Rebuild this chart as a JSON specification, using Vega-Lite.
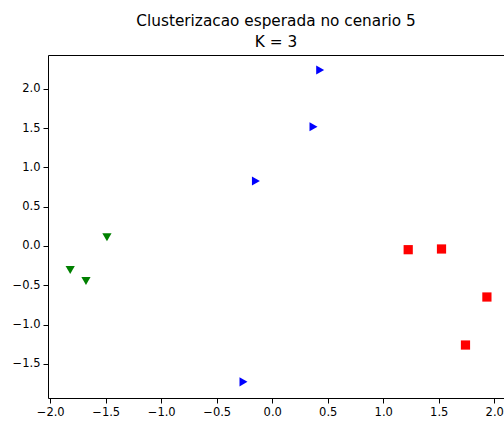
{
  "$schema": "https://vega.github.io/schema/vega-lite/v6.json",
  "width": 456,
  "height": 343,
  "autosize": {"type": "none"},
  "padding": {"left": 48, "top": 55, "right": 0, "bottom": 23},
  "background": "white",
  "title": {
    "text": ["Clusterizacao esperada no cenario 5", "K = 3"],
    "font": "DejaVu Sans",
    "fontSize": 15.3,
    "fontWeight": "normal",
    "color": "#000000",
    "lineHeight": 21,
    "offset": 5,
    "anchor": "middle"
  },
  "config": {
    "view": {"stroke": null},
    "axis": {
      "labelFont": "DejaVu Sans",
      "labelFontSize": 11.5,
      "labelColor": "#000000",
      "tickColor": "#000000",
      "domainColor": "#000000",
      "domainWidth": 1,
      "tickSize": 5,
      "tickWidth": 1,
      "labelPadding": 3,
      "grid": false,
      "title": null
    }
  },
  "data": {
    "values": [
      {"x": 0.432, "y": 2.239, "cluster": "1"},
      {"x": 0.372, "y": 1.517, "cluster": "1"},
      {"x": -0.147, "y": 0.827, "cluster": "1"},
      {"x": -0.259, "y": -1.728, "cluster": "1"},
      {"x": -1.489, "y": 0.11, "cluster": "2"},
      {"x": -1.82, "y": -0.305, "cluster": "2"},
      {"x": -1.678, "y": -0.445, "cluster": "2"},
      {"x": 1.225, "y": -0.047, "cluster": "3"},
      {"x": 1.525, "y": -0.038, "cluster": "3"},
      {"x": 1.934, "y": -0.649, "cluster": "3"},
      {"x": 1.741, "y": -1.26, "cluster": "3"}
    ]
  },
  "layer": [
    {
      "mark": {"type": "point", "filled": true, "opacity": 1},
      "encoding": {
        "x": {
          "field": "x",
          "type": "quantitative",
          "scale": {"domain": [-2.02, 2.088], "nice": false, "zero": false},
          "axis": {"orient": "bottom", "values": [-2, -1.5, -1, -0.5, 0, 0.5, 1, 1.5, 2], "format": ".1f"}
        },
        "y": {
          "field": "y",
          "type": "quantitative",
          "scale": {"domain": [-1.934, 2.43], "nice": false, "zero": false},
          "axis": {"values": [-1.5, -1, -0.5, 0, 0.5, 1, 1.5, 2], "format": ".1f"}
        },
        "color": {
          "field": "cluster",
          "type": "nominal",
          "scale": {"domain": ["1", "2", "3"], "range": ["#0000ff", "#008000", "#ff0000"]},
          "legend": null
        },
        "shape": {
          "field": "cluster",
          "type": "nominal",
          "scale": {"domain": ["1", "2", "3"], "range": ["triangle-right", "triangle-down", "square"]},
          "legend": null
        },
        "size": {
          "field": "cluster",
          "type": "nominal",
          "scale": {"domain": ["1", "2", "3"], "range": [85, 85, 64]},
          "legend": null
        }
      }
    },
    {
      "mark": {"type": "point", "opacity": 0},
      "encoding": {
        "x": {
          "field": "x",
          "type": "quantitative",
          "axis": {"orient": "top", "labels": false, "ticks": false, "domain": true}
        }
      }
    }
  ],
  "resolve": {"axis": {"x": "independent"}}
}
